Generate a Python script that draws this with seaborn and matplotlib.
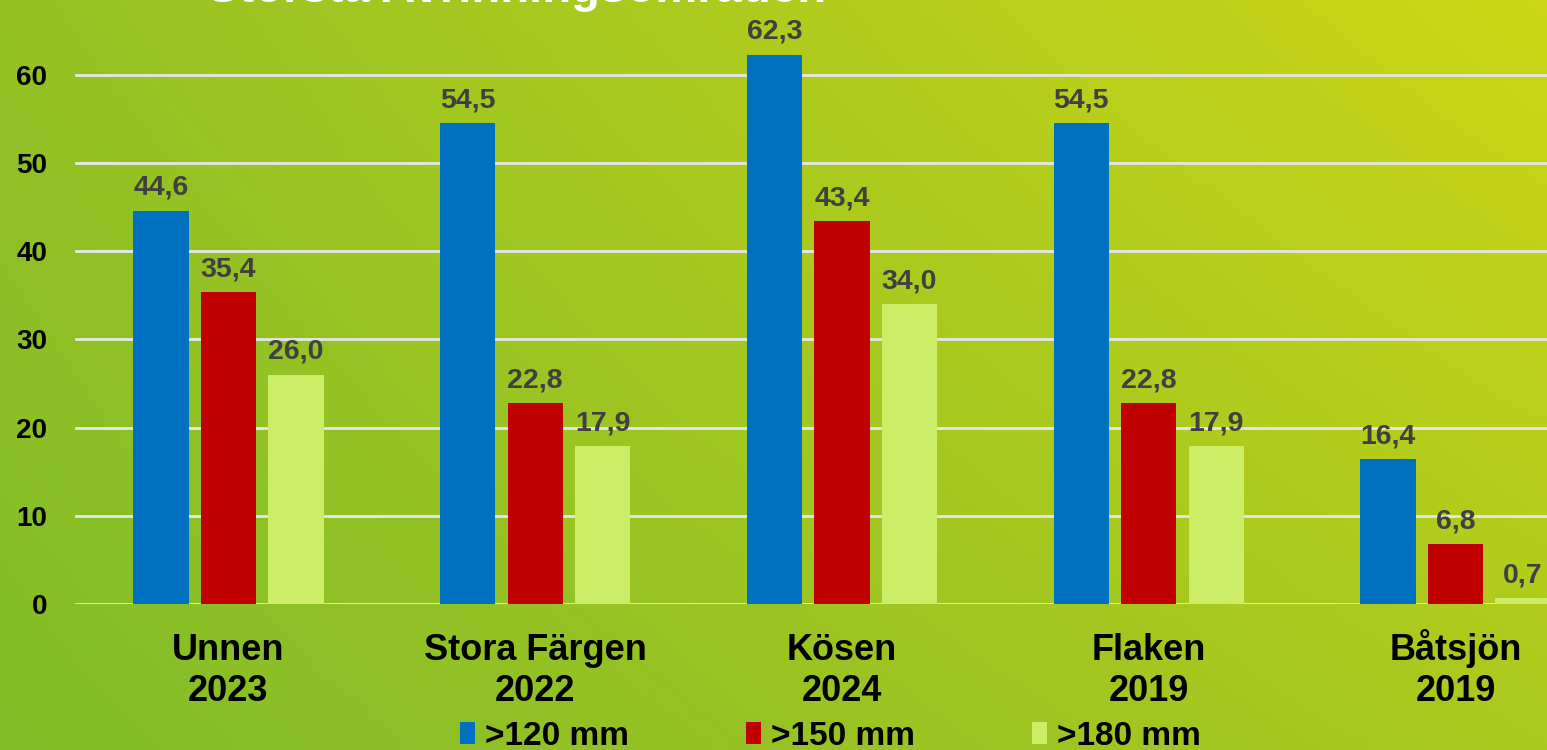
import numpy as np
import pandas as pd
import seaborn as sns
import matplotlib.pyplot as plt
from matplotlib.patches import Patch
from matplotlib.transforms import ScaledTranslation

# data
lakes = ["Unnen\n2023", "Stora Färgen\n2022", "Kösen\n2024", "Flaken\n2019", "Båtsjön\n2019"]
sizes = [">120 mm", ">150 mm", ">180 mm"]
over_120 = [44.6, 54.5, 62.3, 54.5, 16.4]
over_150 = [35.4, 22.8, 43.4, 22.8, 6.8]
over_180 = [26.0, 17.9, 34.0, 17.9, 0.7]
yticks = [0, 10, 20, 30, 40, 50, 60]
title = "Största Avrinningsområden"

colors = ["#0070C0", "#C00000", "#CCEE66"]

df = pd.DataFrame({
    "lake": lakes * 3,
    "size": np.repeat(sizes, len(lakes)),
    "value": over_120 + over_150 + over_180,
})

sns.set_style("white")
plt.rcParams["font.family"] = ["Liberation Sans", "DejaVu Sans"]
plt.rcParams["font.weight"] = "bold"

fig = plt.figure(figsize=(15.47, 7.5), dpi=100)

# green -> yellow-green gradient background
bg = fig.add_axes([0, 0, 1, 1], zorder=-1)
tl = np.array([0.58, 0.76, 0.14])
tr = np.array([0.80, 0.84, 0.09])
bl = np.array([0.51, 0.74, 0.16])
br = np.array([0.67, 0.79, 0.12])
u = np.linspace(0, 1, 200)[None, :, None]
v = np.linspace(0, 1, 100)[:, None, None]
grad = (1 - v) * ((1 - u) * tl + u * tr) + v * ((1 - u) * bl + u * br)
bg.imshow(grad, aspect="auto", extent=[0, 1, 0, 1])
bg.axis("off")

ax = fig.add_axes([75 / 1547, 146 / 750, 1534 / 1547, 0.7644])
ax.set_facecolor("none")

sns.barplot(data=df, x="lake", y="value", hue="size", palette=colors, saturation=1,
            width=0.66, gap=0.18, legend=False, ax=ax, zorder=3,
            edgecolor="none", linewidth=0)

for cont in ax.containers:
    ax.bar_label(cont, labels=[f"{b.get_height():.1f}".replace(".", ",") for b in cont],
                 padding=7, fontsize=20.5, fontweight="bold", color="#404040")

ax.set_xlim(-0.5, 4.5)
ax.set_ylim(0, 65)
ax.set_yticks(yticks)
ax.yaxis.grid(True, color="#E6E6E6", linewidth=2, zorder=0)
ax.set_axisbelow(True)
for s in ax.spines.values():
    s.set_visible(False)
ax.tick_params(axis="y", length=0, pad=20, labelsize=20, labelcolor="black")
ax.tick_params(axis="x", length=0, pad=21, labelsize=26, labelcolor="black")
for t in ax.get_xticklabels():
    t.set_fontweight("bold")
    if "å" in t.get_text():
        # the ring on å makes this label sit lower than the others
        t.set_transform(t.get_transform() + ScaledTranslation(0, 4 / 100, fig.dpi_scale_trans))
for t in ax.get_yticklabels():
    t.set_fontweight("heavy")
ax.set_xlabel("")
ax.set_ylabel("")

fig.text(517 / 1547, 1 - 2 / 750, title, ha="center", va="baseline",
         fontsize=34, fontweight="bold", color="white")

handles = [Patch(facecolor=c, edgecolor="none") for c in colors]
fig.legend(handles, sizes, loc="center", bbox_to_anchor=(0.5368, 0.018), ncol=3,
           frameon=False, prop={"size": 24, "weight": "bold"}, labelcolor="black",
           handlelength=0.45, handleheight=0.65, handletextpad=0.3, columnspacing=3.5)

fig.savefig("out.png", dpi=100)
